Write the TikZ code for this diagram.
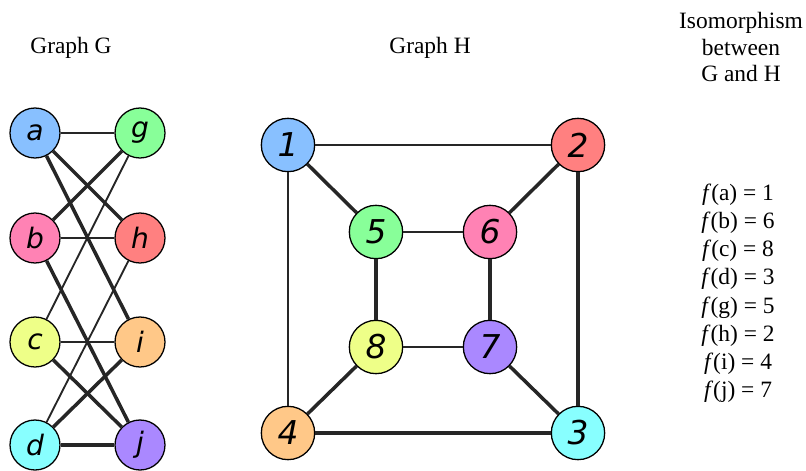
\documentclass[tikz,border=0pt]{standalone}
\usepackage{fontspec}
\setmainfont{Liberation Serif}
\newfontfamily\vtxfont{DejaVu Sans}

\tikzset{
  vtx/.style={circle, draw=black, line width=1.1pt, minimum size=1.5cm, inner sep=0pt,
    font=\vtxfont\itshape\fontsize{24}{24}\selectfont},
  vtxH/.style={vtx, minimum size=1.6cm, font=\vtxfont\itshape\fontsize{28}{28}\selectfont},
  edge/.style={line width=1.6pt, draw=black!85},
  thickedge/.style={line width=3pt, draw=black!85},
}
\definecolor{cblue}{HTML}{88C0FF}
\definecolor{cgreen}{HTML}{88FF99}
\definecolor{cpink}{HTML}{FF82B4}
\definecolor{cred}{HTML}{FF8080}
\definecolor{cyellow}{HTML}{EEFF88}
\definecolor{corange}{HTML}{FFC888}
\definecolor{ccyan}{HTML}{88FFFF}
\definecolor{cpurple}{HTML}{AA88FF}

\begin{document}
\begin{tikzpicture}[x=0.3mm, y=-0.3mm, font=\fontsize{20}{22}\selectfont]
\useasboundingbox (0,0) rectangle (806,471);
% titles
\node (titleG) at (71,48) {Graph G};
\node (titleH) at (430,48) {Graph H};
\node[align=center, font=\fontsize{20}{22.5}\selectfont] (titleF) at (741,47) {Isomorphism\\between\\G and H};
% graph G
\node[vtx, fill=cblue] (a) at (35,133) {a};
\node[vtx, fill=cgreen] (g) at (140,133) {g};
\node[vtx, fill=cpink] (b) at (35,238) {b};
\node[vtx, fill=cred] (h) at (140,238) {h};
\node[vtx, fill=cyellow] (c) at (35,342) {c};
\node[vtx, fill=corange] (i) at (140,342) {i};
\node[vtx, fill=ccyan] (d) at (35,445) {d};
\node[vtx, fill=cpurple] (j) at (140,445) {j};
\draw[edge] (a) -- (g);
\draw[thickedge] (a) -- (h);
\draw[thickedge] (a) -- (i);
\draw[thickedge] (b) -- (g);
\draw[edge] (b) -- (h);
\draw[thickedge] (b) -- (j);
\draw[edge] (c) -- (g);
\draw[edge] (c) -- (i);
\draw[thickedge] (c) -- (j);
\draw[edge] (d) -- (h);
\draw[thickedge] (d) -- (i);
\draw[thickedge] (d) -- (j);
% graph H
\node[vtxH, fill=cblue] (n1) at (288,145) {1};
\node[vtxH, fill=cred] (n2) at (578,145) {2};
\node[vtxH, fill=cgreen] (n5) at (376,232) {5};
\node[vtxH, fill=cpink] (n6) at (490,232) {6};
\node[vtxH, fill=cyellow] (n8) at (376,347) {8};
\node[vtxH, fill=cpurple] (n7) at (490,347) {7};
\node[vtxH, fill=corange] (n4) at (288,433) {4};
\node[vtxH, fill=ccyan] (n3) at (578,433) {3};
\draw[edge] (n1) -- (n2);
\draw[edge] (n1) -- (n4);
\draw[thickedge] (n2) -- (n3);
\draw[thickedge] (n4) -- (n3);
\draw[thickedge] (n1) -- (n5);
\draw[thickedge] (n2) -- (n6);
\draw[thickedge] (n4) -- (n8);
\draw[thickedge] (n3) -- (n7);
\draw[edge] (n5) -- (n6);
\draw[thickedge] (n5) -- (n8);
\draw[thickedge] (n6) -- (n7);
\draw[edge] (n8) -- (n7);
% mapping
\node[align=center, font=\fontsize{20}{24}\selectfont, anchor=north] (map) at (738,180)
  {\textit{f}(a) = 1\\\textit{f}(b) = 6\\\textit{f}(c) = 8\\\textit{f}(d) = 3\\
   \textit{f}(g) = 5\\\textit{f}(h) = 2\\\textit{f}(i) = 4\\\textit{f}(j) = 7};
\end{tikzpicture}
\end{document}
